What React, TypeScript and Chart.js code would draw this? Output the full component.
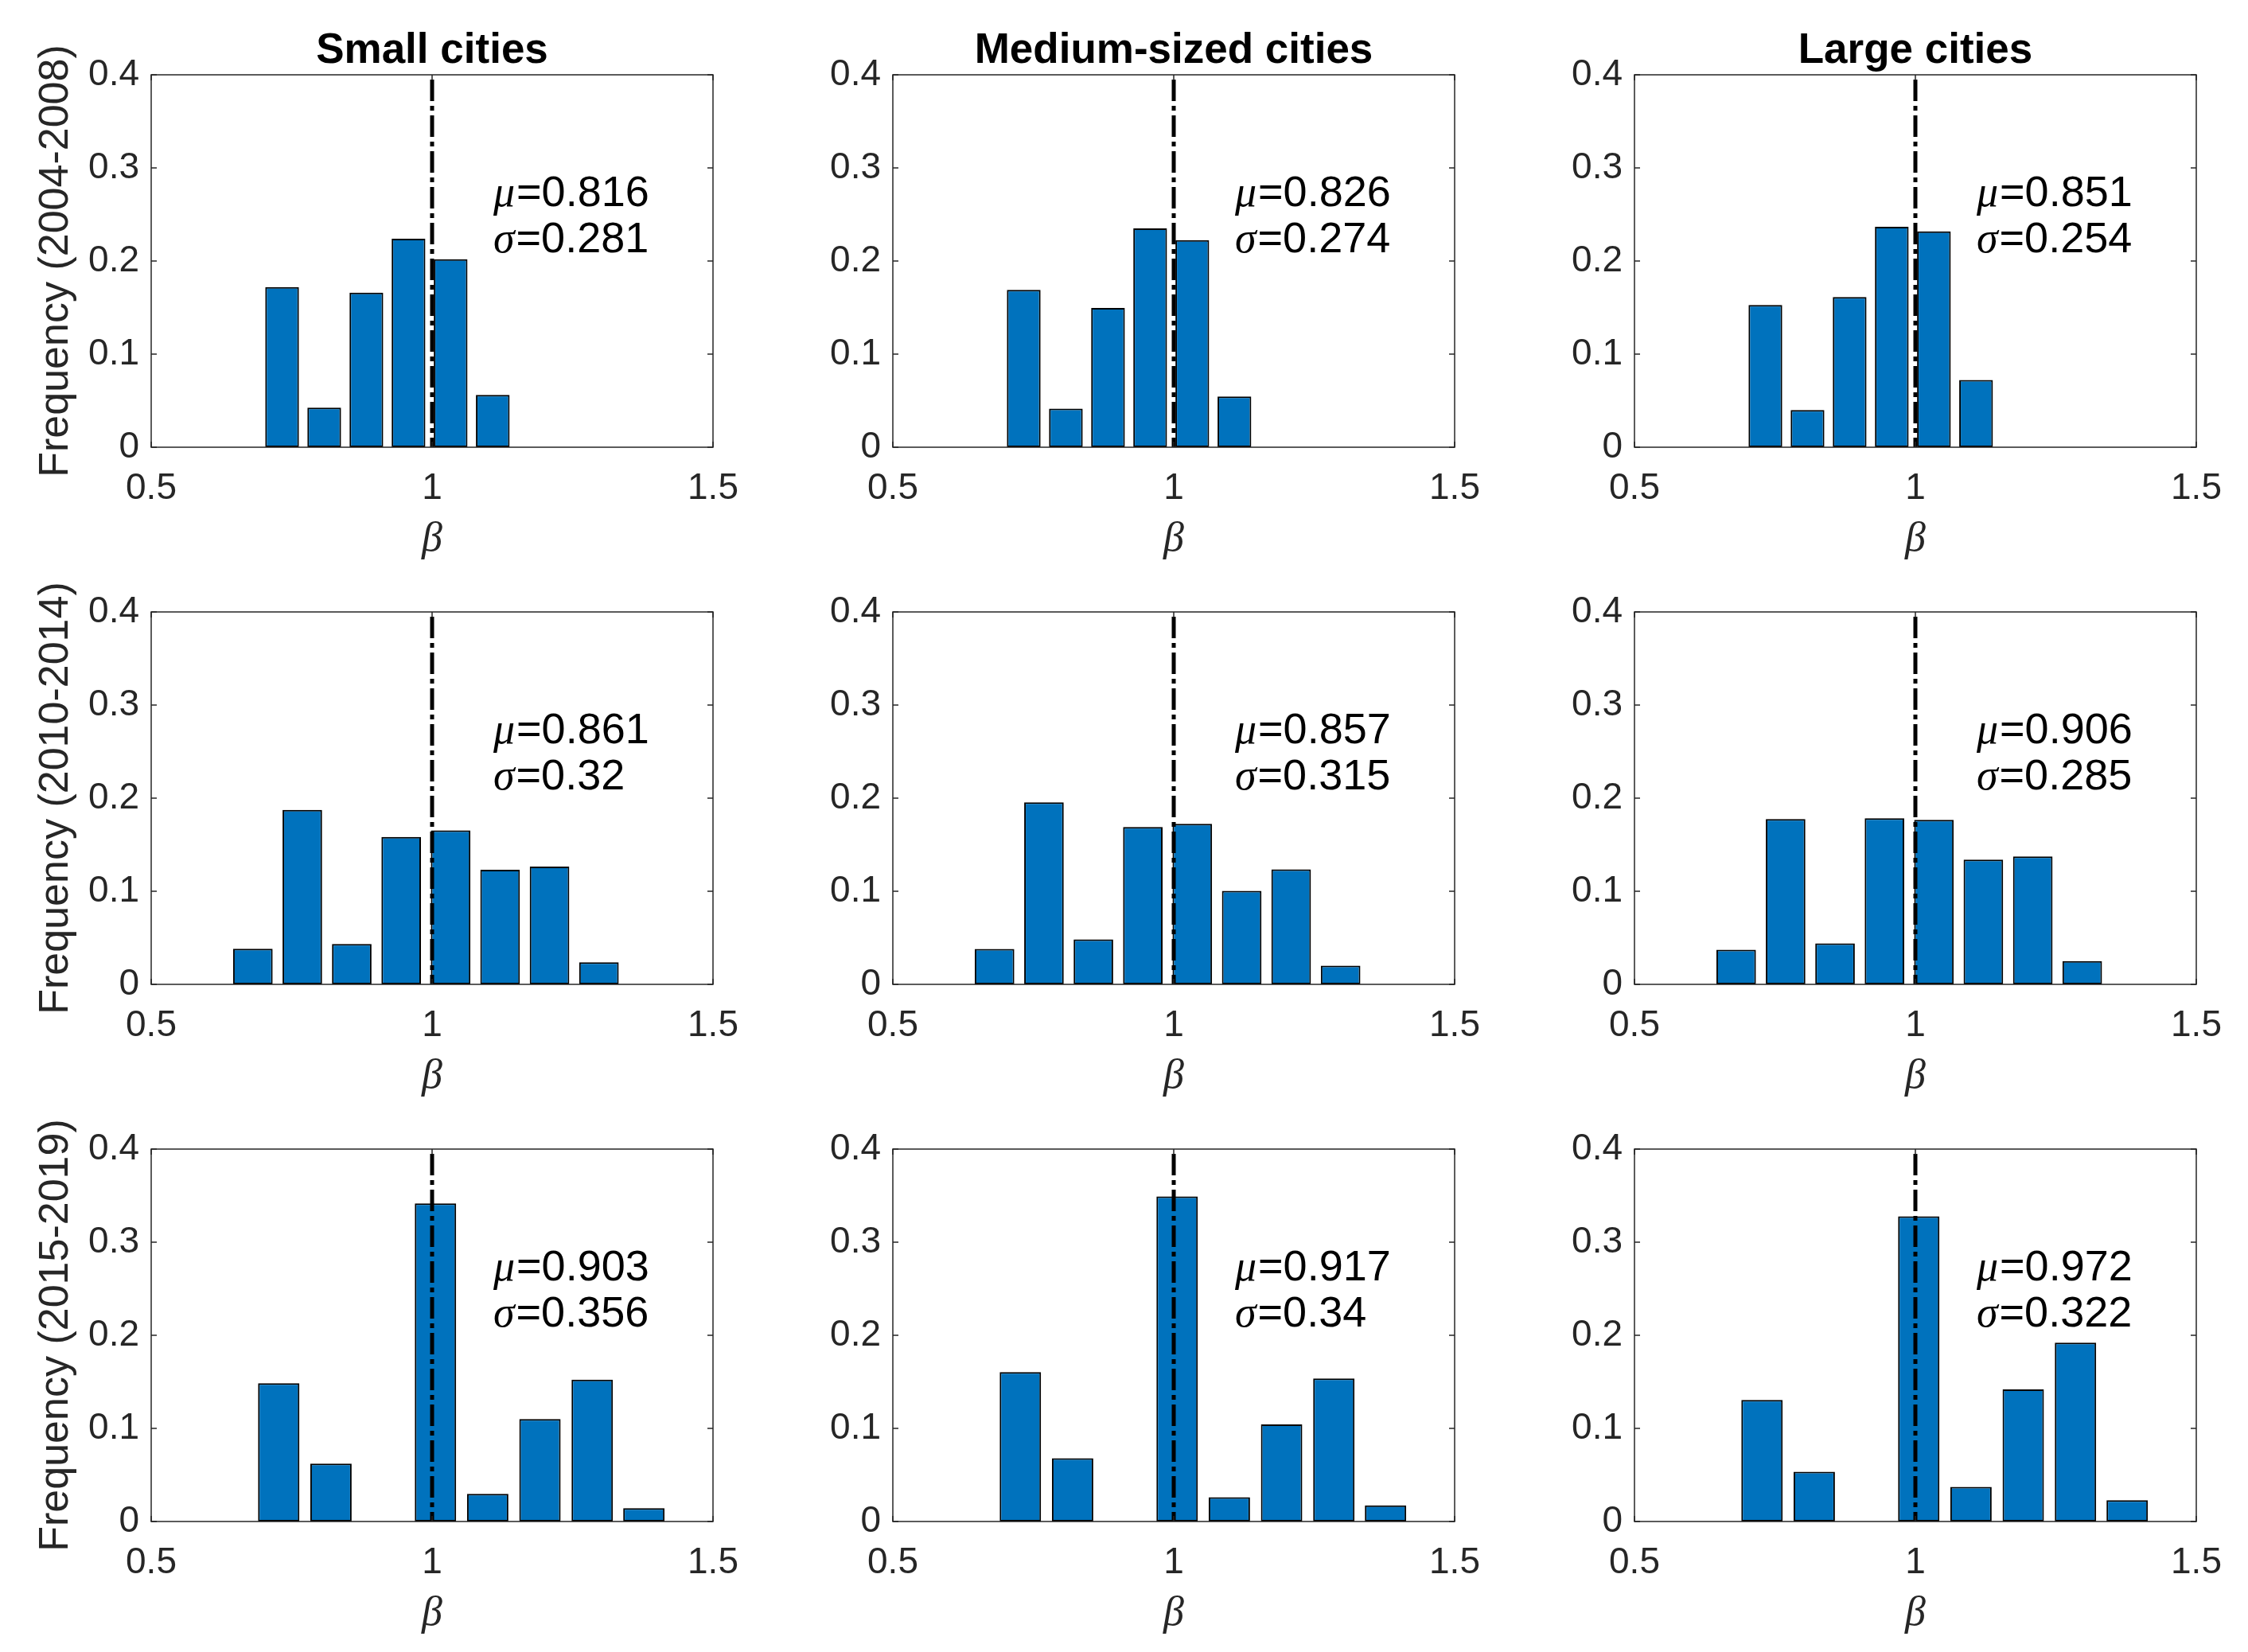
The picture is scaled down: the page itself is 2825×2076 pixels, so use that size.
import React, { useEffect, useRef } from 'react';
import { Chart, registerables } from 'chart.js';

Chart.register(...registerables);

// ---------------- data ----------------
const COLUMN_TITLES = ['Small cities', 'Medium-sized cities', 'Large cities'];
const ROW_LABELS = ['Frequency (2004-2008)', 'Frequency (2010-2014)', 'Frequency (2015-2019)'];

// bin centres (beta) per period
const BINS_2004 = [0.733, 0.808, 0.883, 0.958, 1.033, 1.108];
const BINS_2010 = [0.681, 0.769, 0.857, 0.945, 1.033, 1.121, 1.209, 1.297];
const BINS_2015 = [0.727, 0.82, 1.006, 1.099, 1.192, 1.285, 1.377];

// frequencies
const SMALL_2004 = [0.172, 0.0425, 0.166, 0.224, 0.202, 0.0563];
const MEDIUM_2004 = [0.169, 0.0414, 0.1496, 0.235, 0.2224, 0.0545];
const LARGE_2004 = [0.1527, 0.04, 0.1613, 0.2367, 0.2318, 0.0722];

const SMALL_2010 = [0.0383, 0.1874, 0.0434, 0.1583, 0.1654, 0.1231, 0.1266, 0.0237];
const MEDIUM_2010 = [0.038, 0.1956, 0.0483, 0.169, 0.1724, 0.1005, 0.1236, 0.02];
const LARGE_2010 = [0.0371, 0.1776, 0.044, 0.1784, 0.1767, 0.1339, 0.1373, 0.0251];

const SMALL_2015 = [0.1486, 0.0622, 0.3416, 0.0297, 0.11, 0.1523, 0.0143];
const MEDIUM_2015 = [0.1605, 0.068, 0.3492, 0.026, 0.1042, 0.1536, 0.0174];
const LARGE_2015 = [0.1305, 0.0534, 0.3278, 0.0371, 0.1419, 0.1921, 0.0228];

const MU_LABELS = [
  ['0.816', '0.826', '0.851'],
  ['0.861', '0.857', '0.906'],
  ['0.903', '0.917', '0.972'],
];
const SIGMA_LABELS = [
  ['0.281', '0.274', '0.254'],
  ['0.32', '0.315', '0.285'],
  ['0.356', '0.34', '0.322'],
];

const X_TICKS = [0.5, 1, 1.5];
const X_TICK_LABELS = ['0.5', '1', '1.5'];
const Y_TICKS = [0, 0.1, 0.2, 0.3, 0.4];
const Y_TICK_LABELS = ['0', '0.1', '0.2', '0.3', '0.4'];
const X_MIN = 0.5;
const X_MAX = 1.5;
const Y_MIN = 0;
const Y_MAX = 0.4;
const REF_LINE_X = 1;
const ANNOT_X = 1.109;
const ANNOT_Y = 0.2505;

const ROW_BINS = [BINS_2004, BINS_2010, BINS_2015];
const PANEL_VALUES = [
  [SMALL_2004, MEDIUM_2004, LARGE_2004],
  [SMALL_2010, MEDIUM_2010, LARGE_2010],
  [SMALL_2015, MEDIUM_2015, LARGE_2015],
];

// ---------------- layout / style ----------------
const PAGE_W = 2825;
const PAGE_H = 2076;
const COL_LEFT = [190, 1122, 2054];
const ROW_TOP = [94, 769, 1444];
const PLOT_W = 706;
const PLOT_H = 468;
const M_LEFT = 190;
const M_TOP = 94;
const M_RIGHT = 70;
const M_BOTTOM = 150;
const CANVAS_W = M_LEFT + PLOT_W + M_RIGHT;
const CANVAS_H = M_TOP + PLOT_H + M_BOTTOM;

const SANS = '"Liberation Sans", Arial, Helvetica, sans-serif';
const SERIF = '"Liberation Serif", "DejaVu Serif", serif';
const AXIS_COLOR = '#262626';
const BAR_COLOR = '#0072BD';
const TICK_FONT = 46;
const LABEL_FONT = 52;
const TITLE_FONT = 53;
const ANNOT_FONT = 54;
const ANNOT_LINE_GAP = 58;
const TICK_LEN = 7;

function makeFramePlugin(mu: string, sigma: string) {
  return {
    id: 'matlabFrame',
    afterDatasetsDraw(chart: any) {
      const { ctx, chartArea: a } = chart;
      const xs = chart.scales.x;
      const ys = chart.scales.y;
      ctx.save();
      // box
      ctx.strokeStyle = AXIS_COLOR;
      ctx.lineWidth = 1.5;
      ctx.strokeRect(a.left, a.top, a.right - a.left, a.bottom - a.top);
      // inward ticks on all four sides
      ctx.beginPath();
      X_TICKS.forEach((v) => {
        const px = xs.getPixelForValue(v);
        ctx.moveTo(px, a.bottom);
        ctx.lineTo(px, a.bottom - TICK_LEN);
        ctx.moveTo(px, a.top);
        ctx.lineTo(px, a.top + TICK_LEN);
      });
      Y_TICKS.forEach((v) => {
        const py = ys.getPixelForValue(v);
        ctx.moveTo(a.left, py);
        ctx.lineTo(a.left + TICK_LEN, py);
        ctx.moveTo(a.right, py);
        ctx.lineTo(a.right - TICK_LEN, py);
      });
      ctx.stroke();

      // mu / sigma annotation
      const ax = xs.getPixelForValue(ANNOT_X);
      const ay = ys.getPixelForValue(ANNOT_Y);
      const lines: [string, string][] = [
        ['\u03BC', '=' + mu],
        ['\u03C3', '=' + sigma],
      ];
      ctx.fillStyle = '#000';
      ctx.textAlign = 'left';
      ctx.textBaseline = 'alphabetic';
      lines.forEach(([g, rest], i) => {
        const cy = ay + (i === 0 ? -ANNOT_LINE_GAP / 2 : ANNOT_LINE_GAP / 2);
        const base = cy + 0.358 * ANNOT_FONT;
        ctx.font = `italic ${ANNOT_FONT}px ${SERIF}`;
        ctx.fillText(g, ax, base);
        const w = ctx.measureText(g).width;
        ctx.font = `${ANNOT_FONT}px ${SANS}`;
        ctx.fillText(rest, ax + w + 2, base);
      });
      ctx.restore();
    },
  };
}

function Panel({ row, col }: { row: number; col: number }) {
  const ref = useRef<HTMLCanvasElement | null>(null);

  useEffect(() => {
    const canvas = ref.current;
    if (!canvas) return;
    const bins = ROW_BINS[row];
    const values = PANEL_VALUES[row][col];
    const barData = bins.map((b, i) => ({ x: b, y: values[i] }));

    const chart = new Chart(canvas, {
      type: 'bar',
      data: {
        datasets: [
          {
            type: 'bar',
            data: barData,
            backgroundColor: BAR_COLOR,
            borderColor: '#000000',
            borderWidth: 2,
            borderSkipped: false,
            categoryPercentage: 1,
            barPercentage: 0.8,
            order: 1,
          } as any,
          {
            type: 'line',
            data: [
              { x: REF_LINE_X, y: Y_MAX },
              { x: REF_LINE_X, y: Y_MIN },
            ],
            borderColor: '#000000',
            borderWidth: 5,
            borderDash: [27, 6, 6, 6],
            borderDashOffset: 39,
            borderCapStyle: 'butt',
            pointRadius: 0,
            fill: false,
            tension: 0,
            order: 0,
          } as any,
        ],
      },
      options: {
        animation: false,
        responsive: false,
        events: [],
        layout: {
          padding: { left: 0, right: M_RIGHT, top: row === 0 ? 0 : M_TOP, bottom: 0 },
        },
        plugins: {
          legend: { display: false },
          tooltip: { enabled: false },
          title: {
            display: row === 0,
            text: COLUMN_TITLES[col],
            fullSize: false,
            color: '#000000',
            font: { family: SANS, size: TITLE_FONT, weight: 'bold', lineHeight: 1 },
            padding: { top: 38, bottom: M_TOP - 38 - TITLE_FONT },
          },
        },
        scales: {
          x: {
            type: 'linear',
            position: 'bottom',
            min: X_MIN,
            max: X_MAX,
            offset: false,
            grid: { display: false, drawTicks: false },
            border: { display: false },
            afterBuildTicks: (s: any) => {
              s.ticks = X_TICKS.map((v) => ({ value: v }));
            },
            afterFit: (s: any) => {
              s.height = M_BOTTOM;
            },
            ticks: {
              autoSkip: false,
              maxRotation: 0,
              minRotation: 0,
              padding: 25,
              color: AXIS_COLOR,
              font: { family: SANS, size: TICK_FONT },
              callback: (_v: any, i: number) => X_TICK_LABELS[i],
            },
            title: {
              display: true,
              text: '\u03B2',
              color: AXIS_COLOR,
              font: { family: SERIF, size: LABEL_FONT, style: 'italic' },
              padding: { top: 0, bottom: 2 },
            },
          },
          y: {
            type: 'linear',
            position: 'left',
            min: Y_MIN,
            max: Y_MAX,
            grid: { display: false, drawTicks: false },
            border: { display: false },
            afterBuildTicks: (s: any) => {
              s.ticks = Y_TICKS.map((v) => ({ value: v }));
            },
            afterFit: (s: any) => {
              s.width = M_LEFT;
            },
            ticks: {
              autoSkip: false,
              padding: 15,
              color: AXIS_COLOR,
              font: { family: SANS, size: TICK_FONT },
              callback: (_v: any, i: number) => Y_TICK_LABELS[i],
            },
            title: {
              display: col === 0,
              text: ROW_LABELS[row],
              color: AXIS_COLOR,
              font: { family: SANS, size: LABEL_FONT },
              padding: { top: 39, bottom: 0 },
            },
          },
        },
      } as any,
      plugins: [makeFramePlugin(MU_LABELS[row][col], SIGMA_LABELS[row][col])],
    });

    return () => chart.destroy();
  }, [row, col]);

  return (
    <canvas
      ref={ref}
      width={CANVAS_W}
      height={CANVAS_H}
      style={{
        position: 'absolute',
        left: COL_LEFT[col] - M_LEFT,
        top: ROW_TOP[row] - M_TOP,
        width: CANVAS_W,
        height: CANVAS_H,
      }}
    />
  );
}

export default function App() {
  const cells: { row: number; col: number }[] = [];
  for (let r = 0; r < 3; r++) for (let c = 0; c < 3; c++) cells.push({ row: r, col: c });
  return (
    <div
      style={{
        position: 'absolute',
        left: 0,
        top: 0,
        width: PAGE_W,
        height: PAGE_H,
        background: '#ffffff',
        overflow: 'hidden',
      }}
    >
      {cells.map(({ row, col }) => (
        <Panel key={`${row}-${col}`} row={row} col={col} />
      ))}
    </div>
  );
}
